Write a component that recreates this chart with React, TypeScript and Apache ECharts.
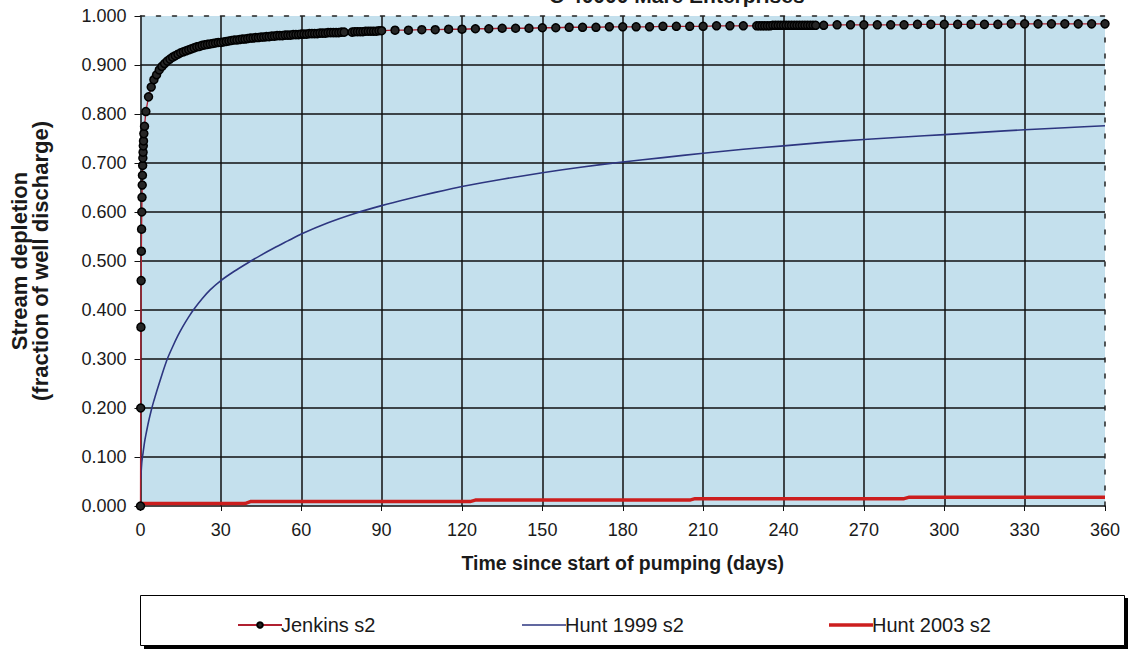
import React, { useEffect, useRef } from "react";
import * as echarts from "echarts";

const chartTitle = "C 40000 Mare Enterprises";
const seriesNames = ["Jenkins s2", "Hunt 1999 s2", "Hunt 2003 s2"];

const jenkinsT = [
  0, 0.08, 0.16, 0.24, 0.32, 0.4, 0.48, 0.56, 0.64, 0.72, 0.8, 0.88, 0.96, 1.04, 1.12, 1.25, 1.5,
  2, 3, 4, 5, 6, 7, 8, 9, 10, 11, 12, 13, 14, 15, 16, 17, 18, 19, 20,
  21, 22, 23, 24, 25, 26, 27, 28, 29, 30, 31, 32, 33, 34, 35, 36, 37, 38, 39, 40,
  41, 42, 43, 44, 45, 46, 47, 48, 49, 50, 51, 52, 53, 54, 55, 56, 57, 58, 59, 60,
  61, 62, 63, 64, 65, 66, 67, 68, 69, 70, 71, 72, 73, 74, 75, 76, 79, 80,
  81, 82, 83, 84, 85, 86, 87, 88, 89, 90,
  95, 100, 105, 110, 115, 120, 125, 130, 135, 140, 145, 150, 155, 160, 165, 170,
  175, 180, 185, 190, 195, 200, 205, 210, 215, 220, 225, 230,
  231, 232, 233, 234, 235, 236, 237, 238, 239, 240, 241, 242, 243, 244, 245, 246,
  247, 248, 249, 250, 251, 252,
  255, 260, 265, 270, 275, 280, 285, 290, 295, 300, 305, 310, 315, 320, 325, 330,
  335, 340, 345, 350, 355, 360,
];
const jenkinsV = [
  0, 0.2, 0.365, 0.46, 0.52, 0.565, 0.6, 0.63, 0.655, 0.675, 0.695, 0.71, 0.722, 0.735, 0.745, 0.76, 0.775,
  0.805, 0.835, 0.855, 0.87, 0.88, 0.89, 0.897, 0.903, 0.908, 0.912, 0.916, 0.919, 0.922, 0.925, 0.927, 0.929, 0.931, 0.933, 0.935,
  0.937, 0.938, 0.94, 0.941, 0.942, 0.943, 0.944, 0.945, 0.946, 0.946, 0.947, 0.948, 0.949, 0.95, 0.951, 0.951, 0.952, 0.953, 0.953, 0.954,
  0.955, 0.955, 0.956, 0.956, 0.957, 0.957, 0.958, 0.958, 0.959, 0.959, 0.96, 0.96, 0.96, 0.961, 0.961, 0.961, 0.962, 0.962, 0.962, 0.963,
  0.963, 0.963, 0.964, 0.964, 0.964, 0.964, 0.965, 0.965, 0.965, 0.966, 0.966, 0.966, 0.966, 0.966, 0.967, 0.967, 0.967, 0.968,
  0.968, 0.968, 0.968, 0.969, 0.969, 0.969, 0.969, 0.969, 0.97, 0.97,
  0.971, 0.971, 0.972, 0.972, 0.973, 0.973, 0.974, 0.974, 0.975, 0.975, 0.975, 0.976, 0.976, 0.977, 0.977, 0.977,
  0.978, 0.978, 0.978, 0.978, 0.979, 0.979, 0.979, 0.979, 0.98, 0.98, 0.98, 0.98,
  0.98, 0.98, 0.98, 0.98, 0.98, 0.981, 0.981, 0.981, 0.981, 0.981, 0.981, 0.981, 0.981, 0.981, 0.981, 0.981,
  0.981, 0.981, 0.981, 0.981, 0.981, 0.981,
  0.981, 0.982, 0.982, 0.982, 0.982, 0.982, 0.982, 0.983, 0.983, 0.983, 0.983, 0.983, 0.983, 0.983, 0.984, 0.984,
  0.984, 0.984, 0.984, 0.984, 0.984, 0.984,
];

const hunt99T = [
  0.1, 0.25, 0.5, 1, 1.5, 2, 3, 4, 5, 6, 8, 10, 12, 14, 16, 18, 20, 23, 26, 30, 35, 40, 45, 50, 55, 60,
  70, 80, 90, 100, 110, 120, 135, 150, 165, 180, 195, 210, 225, 240, 255, 270, 285, 300, 315, 330, 345, 360,
];
const hunt99V = [
  0.055, 0.07, 0.09, 0.11, 0.13, 0.145, 0.172, 0.195, 0.215, 0.233, 0.268, 0.3, 0.325, 0.348, 0.368, 0.386, 0.402, 0.423, 0.441, 0.46, 0.479, 0.496, 0.512, 0.527, 0.541, 0.555,
  0.578, 0.597, 0.613, 0.627, 0.64, 0.652, 0.667, 0.68, 0.692, 0.702, 0.711, 0.72, 0.728, 0.735, 0.742, 0.748, 0.753, 0.758, 0.763, 0.768, 0.772, 0.776,
];

const hunt03T = [0, 39, 41, 123, 125, 205, 207, 285, 287, 360];
const hunt03V = [0.005, 0.005, 0.009, 0.009, 0.012, 0.012, 0.015, 0.015, 0.018, 0.018];

const FONT = "'Liberation Sans', Arial, sans-serif";
const TXT = "#1a1a1a";

export default function App() {
  const ref = useRef<HTMLDivElement>(null);
  useEffect(() => {
    if (!ref.current) return;
    const chart = echarts.init(ref.current, undefined, { renderer: "svg" });
    const pair = (t: number[], v: number[]) => t.map((x, i) => [x, v[i]]);
    const legendIcons = [undefined, "path://M0,0 L44,0 L44,1.6 L0,1.6 Z", "path://M0,0 L44,0 L44,3.6 L0,3.6 Z"];
    chart.setOption({
      animation: false,
      textStyle: { fontFamily: FONT },
      graphic: [
        {
          type: "text",
          left: 549,
          top: -15,
          style: { text: chartTitle, font: `bold 21px ${FONT}`, fill: TXT },
        },
        { type: "rect", shape: { x: 144, y: 598, width: 984, height: 51 }, style: { fill: "#000" } },
        { type: "rect", shape: { x: 140.5, y: 595.5, width: 984, height: 50 }, style: { fill: "#fff", stroke: "#000", lineWidth: 1 } },
      ],
      grid: {
        left: 140,
        right: 29,
        top: 16,
        bottom: 146,
        show: true,
        backgroundColor: "#c4e0ed",
        borderWidth: 0,
      },
      legend: seriesNames.map((n, i) => ({
        data: [legendIcons[i] ? { name: n, icon: legendIcons[i] } : n],
        left: [232, 517, 824][i],
        top: 610,
        itemWidth: 44,
        itemHeight: i === 0 ? 7 : 12,
        itemGap: 0,
        textStyle: { fontFamily: FONT, fontSize: 20, color: TXT, padding: [0, 0, 0, -6] },
      })),
      xAxis: [
        {
          type: "value",
          min: 0,
          max: 360,
          interval: 30,
          name: "Time since start of pumping (days)",
          nameLocation: "middle",
          nameGap: 47,
          nameTextStyle: { fontFamily: FONT, fontSize: 19.5, fontWeight: "bold", color: TXT },
          axisLine: { lineStyle: { color: "#111", width: 1.5 } },
          axisTick: { show: true, length: 5, lineStyle: { color: "#111" } },
          axisLabel: { fontFamily: FONT, fontSize: 18, color: TXT, margin: 15 },
          splitLine: { show: true, showMinLine: false, showMaxLine: false, lineStyle: { color: "#111", width: 1.5 } },
        },
        {
          type: "value",
          position: "top",
          min: 0,
          max: 360,
          axisLine: { show: true, onZero: false, lineStyle: { color: "#222", width: 1.5, type: [4, 12] } },
          axisTick: { show: false },
          axisLabel: { show: false },
          splitLine: { show: false },
        },
      ],
      yAxis: [
        {
          type: "value",
          min: 0,
          max: 1,
          interval: 0.1,
          name: "Stream depletion\n(fraction of well discharge)",
          nameLocation: "middle",
          nameRotate: 90,
          nameGap: 90,
          nameTextStyle: { fontFamily: FONT, fontSize: 22, fontWeight: "bold", color: TXT, lineHeight: 21 },
          axisLine: { show: true, lineStyle: { color: "#111", width: 1.5 } },
          axisTick: { show: true, length: 6, lineStyle: { color: "#111" } },
          axisLabel: { fontFamily: FONT, fontSize: 18, color: TXT, margin: 14, formatter: (v: number) => v.toFixed(3) },
          splitLine: { show: true, showMinLine: false, showMaxLine: false, lineStyle: { color: "#111", width: 1.5 } },
        },
        {
          type: "value",
          position: "right",
          min: 0,
          max: 1,
          axisLine: { show: true, onZero: false, lineStyle: { color: "#222", width: 1.5, type: [4, 12] } },
          axisTick: { show: false },
          axisLabel: { show: false },
          splitLine: { show: false },
        },
      ],
      series: [
        {
          name: seriesNames[2],
          type: "line",
          data: pair(hunt03T, hunt03V),
          showSymbol: false,
          symbol: "none",
          lineStyle: { color: "#cc1e1e", width: 3.5 },
          itemStyle: { color: "#cc1e1e" },
          z: 3,
        },
        {
          name: seriesNames[1],
          type: "line",
          data: pair(hunt99T, hunt99V),
          smooth: 0.2,
          showSymbol: false,
          symbol: "none",
          lineStyle: { color: "#2d3680", width: 1.6 },
          itemStyle: { color: "#2d3680" },
          z: 4,
        },
        {
          name: seriesNames[0],
          type: "line",
          data: pair(jenkinsT, jenkinsV),
          symbol: "circle",
          symbolSize: 8,
          showAllSymbol: true,
          lineStyle: { color: "#b02030", width: 1.3 },
          itemStyle: { color: "#262626", borderColor: "#000", borderWidth: 1.5 },
          z: 5,
        },
      ],
    });
    return () => chart.dispose();
  }, []);
  return <div ref={ref} style={{ width: 1134, height: 652, position: "absolute", left: 0, top: 0 }} />;
}
